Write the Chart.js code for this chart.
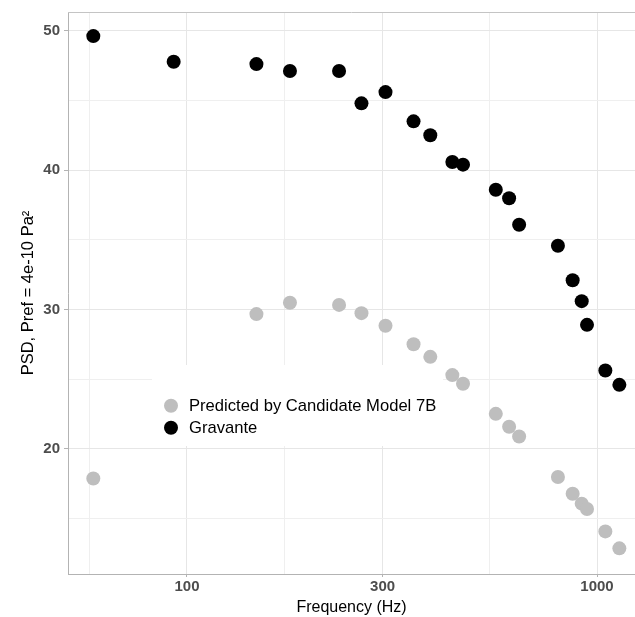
<!DOCTYPE html>
<html>
<head>
<meta charset="utf-8">
<script src="https://cdn.jsdelivr.net/npm/chart.js@4/dist/chart.umd.min.js"></script>
<style>
  html, body { margin: 0; padding: 0; background: #fff; }
  #wrap { width: 635px; height: 617px; }
</style>
</head>
<body>
<div id="wrap"><canvas id="chart"></canvas></div>
<script>
// values
const frequencies = [59.1, 92.8, 147.7, 178.3, 234.9, 266.4, 304.9, 356.9, 392.1, 443.8,
  471.2, 566.4, 610.4, 645.7, 802.9, 872.1, 917.6, 945.3, 1047.9, 1133.6];
const gravante = [49.62, 47.78, 47.61, 47.11, 47.11, 44.79, 45.6, 43.5, 42.5, 40.58,
  40.39, 38.59, 37.98, 36.08, 34.57, 32.09, 30.59, 28.89, 25.61, 24.58];
const predicted = [17.86, null, 29.66, 30.47, 30.32, 29.73, 28.82, 27.5, 26.59, 25.28,
  24.66, 22.5, 21.57, 20.87, 17.96, 16.76, 16.05, 15.67, 14.06, 12.84];

const seriesNames = ['Predicted by Candidate Model 7B', 'Gravante'];
const seriesColors = ['#bebebe', '#000000'];

const xMajorTicks = [100, 300, 1000];
const xMinorTicks = [57.7, 173.2, 547.7];
const yMajorTicks = [20, 30, 40, 50];
const yMinorTicks = [15, 25, 35, 45];

const FONT = '"Liberation Sans", Arial, sans-serif';

const toPoints = (vals) =>
  frequencies.map((f, i) => ({ x: f, y: vals[i] })).filter((p) => p.y !== null);

// legend box inside the panel + top border, like the ggplot output
const panelExtras = {
  id: 'panelExtras',
  afterDraw(chart) {
    const { ctx, chartArea } = chart;
    ctx.save();
    ctx.strokeStyle = '#c4c4c4';
    ctx.lineWidth = 1;
    ctx.beginPath();
    ctx.moveTo(chartArea.left, chartArea.top + 0.5);
    ctx.lineTo(chartArea.right, chartArea.top + 0.5);
    ctx.stroke();

    ctx.fillStyle = '#ffffff';
    ctx.fillRect(152, 365, 291, 81);

    ctx.font = '16.6px ' + FONT;
    ctx.textBaseline = 'middle';
    chart.data.datasets.forEach((ds, i) => {
      const cy = 405.7 + i * 22;
      ctx.beginPath();
      ctx.arc(171, cy, 7, 0, Math.PI * 2);
      ctx.fillStyle = ds.backgroundColor;
      ctx.fill();
      ctx.fillStyle = '#000000';
      ctx.fillText(ds.label, 189, cy + 0.5);
    });
    ctx.restore();
  },
};

new Chart(document.getElementById('chart'), {
  type: 'scatter',
  data: {
    datasets: [
      {
        label: seriesNames[0],
        data: toPoints(predicted),
        backgroundColor: seriesColors[0],
        borderWidth: 0,
        pointRadius: 7,
      },
      {
        label: seriesNames[1],
        data: toPoints(gravante),
        backgroundColor: seriesColors[1],
        borderWidth: 0,
        pointRadius: 7,
      },
    ],
  },
  options: {
    responsive: true,
    maintainAspectRatio: false,
    animation: false,
    layout: { autoPadding: false, padding: { top: 12, right: 0, bottom: 0, left: 0 } },
    plugins: {
      legend: { display: false },
      tooltip: { enabled: false },
    },
    scales: {
      x: {
        type: 'logarithmic',
        min: 51.27,
        max: 1237.7,
        afterBuildTicks: (axis) => {
          axis.ticks = [...xMinorTicks, ...xMajorTicks]
            .sort((a, b) => a - b)
            .map((v) => ({ value: v }));
        },
        afterFit: (axis) => {
          axis.height = 43;
          axis.paddingLeft = 0;
          axis.paddingRight = 0;
        },
        grid: {
          color: (c) => (c.tick && xMajorTicks.includes(c.tick.value) ? '#e6e6e6' : '#efefef'),
          tickColor: (c) => (c.tick && xMajorTicks.includes(c.tick.value) ? '#b3b3b3' : 'rgba(0,0,0,0)'),
          tickLength: 3,
        },
        border: { color: '#b3b3b3' },
        ticks: {
          autoSkip: false,
          maxRotation: 0,
          padding: 1,
          color: '#4d4d4d',
          font: { family: FONT, size: 15, weight: 'bold' },
          callback: (v) => (xMajorTicks.includes(v) ? String(v) : ''),
        },
        title: {
          display: true,
          text: 'Frequency (Hz)',
          color: '#000000',
          font: { family: FONT, size: 16 },
          padding: { top: 0, bottom: 0 },
        },
      },
      y: {
        min: 11.0,
        max: 51.35,
        afterBuildTicks: (axis) => {
          axis.ticks = [...yMinorTicks, ...yMajorTicks]
            .sort((a, b) => a - b)
            .map((v) => ({ value: v }));
        },
        afterFit: (axis) => {
          axis.width = 68;
          axis.paddingTop = 0;
          axis.paddingBottom = 0;
        },
        grid: {
          color: (c) => (c.tick && yMajorTicks.includes(c.tick.value) ? '#e6e6e6' : '#efefef'),
          tickColor: (c) => (c.tick && yMajorTicks.includes(c.tick.value) ? '#b3b3b3' : 'rgba(0,0,0,0)'),
          tickLength: 4,
        },
        border: { color: '#b3b3b3' },
        ticks: {
          autoSkip: false,
          padding: 4,
          color: '#4d4d4d',
          font: { family: FONT, size: 15, weight: 'bold' },
          callback: (v) => (yMajorTicks.includes(v) ? String(v) : ''),
        },
        title: {
          display: true,
          text: 'PSD, Pref = 4e-10 Pa²',
          color: '#000000',
          font: { family: FONT, size: 16.5 },
          padding: { top: 19, bottom: 0 },
        },
      },
    },
  },
  plugins: [panelExtras],
});
</script>
</body>
</html>
